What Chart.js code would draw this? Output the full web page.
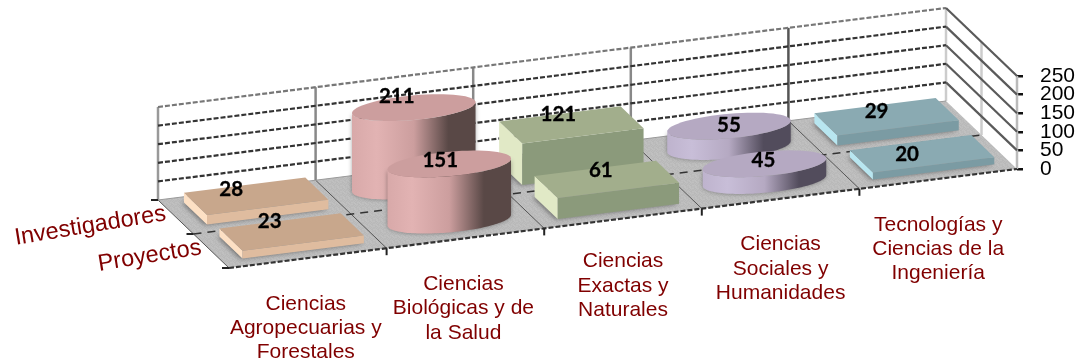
<!DOCTYPE html>
<html>
<head>
<meta charset="utf-8">
<style>
  html, body { margin: 0; padding: 0; background: #fff; }
  #wrap { width: 1080px; height: 364px; }
</style>
<script src="https://cdn.jsdelivr.net/npm/chart.js@4/dist/chart.umd.min.js"></script>
</head>
<body>
<div id="wrap"><canvas id="chart3d"></canvas></div>
<script>
const categories = [
  ['Ciencias', 'Agropecuarias y', 'Forestales'],
  ['Ciencias', 'Biológicas y de', 'la Salud'],
  ['Ciencias', 'Exactas y', 'Naturales'],
  ['Ciencias', 'Sociales y', 'Humanidades'],
  ['Tecnologías y', 'Ciencias de la', 'Ingeniería']
];
const proyectos = [23, 151, 61, 45, 20];
const investigadores = [28, 211, 121, 55, 29];
const seriesNames = ['Proyectos', 'Investigadores'];
const yTicks = [0, 50, 100, 150, 200, 250];
const shapes = ['box', 'cylinder', 'box', 'cylinder', 'box'];

const palette = [
  { top: '#c8a78c', front: '#dfbc9f', side: '#fde0c4', dark: '#8a7060' },
  { top: '#cc9e9e', front: '#e2b3b3', side: '#d8a9a9', dark: '#594846' },
  { top: '#a2ae8c', front: '#8b9a7b', side: '#e1e9c6', dark: '#6f7a60' },
  { top: '#b5a9c2', front: '#c8bed8', side: '#beb3cd', dark: '#524c5c' },
  { top: '#8aaab2', front: '#7b9ba3', side: '#b8e6f0', dark: '#5f7a80' }
];
const wallLineColors = ['#999', '#888', '#888', '#888', '#555', '#ccc'];

// small shifts of the value labels, per series then per category
const labelNudge = [
  [[-22, -11], [-9, -4], [-6, -9], [-1, -3], [-15, 1]],
  [[-25, -7], [-17, -11], [-13, -10], [0, -1], [-10, -5]]
];
// small shifts of the category labels
const categoryNudge = [[-2, 0], [-2, 0], [0, -3], [0, 0], [0, 0]];

// oblique view: depth runs from front edge (0) to back wall (1)
const depthDx = -71;
const depthDy = -68;
const frontRise = 99 / 788;
const boxHeightScale = 0.92;
const cylinderHeightScale = 1;
const boxNear = 0.2;
const boxFar = 0.85;
const barShift = 2.5;
const redText = '#800000';

function project(area, px, depth, py) {
  return {
    x: px + depth * depthDx,
    y: py + (area.right - px) * frontRise + depth * depthDy
  };
}

function poly(ctx, pts, fill) {
  ctx.beginPath();
  pts.forEach((p, i) => i ? ctx.lineTo(p.x, p.y) : ctx.moveTo(p.x, p.y));
  ctx.closePath();
  ctx.fillStyle = fill;
  ctx.fill();
}

function line(ctx, a, b, color, width, dash) {
  ctx.beginPath();
  ctx.moveTo(a.x, a.y);
  ctx.lineTo(b.x, b.y);
  ctx.strokeStyle = color;
  ctx.lineWidth = width;
  ctx.setLineDash(dash || []);
  ctx.stroke();
  ctx.setLineDash([]);
}

// grainy grey of the floor, a fixed tile
function floorPattern(ctx) {
  const tile = document.createElement('canvas');
  tile.width = 11;
  tile.height = 11;
  const t = tile.getContext('2d');
  const greys = ['#bcbcbc', '#b8b8b8', '#c0c0c0', '#bababa', '#bebebe'];
  for (let a = 0; a < 11; a++) {
    for (let b = 0; b < 11; b++) {
      t.fillStyle = greys[(a * a * 3 + b * b * 7 + a * b) % 5];
      t.fillRect(a, b, 1, 1);
    }
  }
  return ctx.createPattern(tile, 'repeat');
}

function drawRoom(chart) {
  const { ctx, chartArea: area } = chart;
  const y = chart.scales.y;
  const base = y.getPixelForValue(0);
  const n = categories.length;
  const step = (area.right - area.left) / n;

  // floor
  poly(ctx, [
    project(area, area.left, 0, base), project(area, area.right, 0, base),
    project(area, area.right, 1, base), project(area, area.left, 1, base)
  ], floorPattern(ctx));

  for (let i = 0; i <= n; i++) {
    const px = area.left + i * step;
    line(ctx, project(area, px, 1, base), project(area, px, 1, area.top), wallLineColors[i], 2.5);
  }
  line(ctx, project(area, area.right, 0.5, base), project(area, area.right, 0.5, area.top), '#ccc', 2.5);
  line(ctx, project(area, area.right, 0, base), project(area, area.right, 0, area.top), '#bbb', 2.5);

  // grid lines on back and right walls
  yTicks.forEach((t, i) => {
    const py = y.getPixelForValue(t);
    const color = i === yTicks.length - 1 ? '#777' : '#333';
    if (i > 0) {
      line(ctx, project(area, area.left, 1, py), project(area, area.right, 1, py), color, 2.2, [5, 2]);
      line(ctx, project(area, area.right, 1, py), project(area, area.right, 0, py), '#5a5a5a', 2.2);
    }
  });

  // floor lines
  for (let i = 1; i < n; i++) {
    const px = area.left + i * step;
    line(ctx, project(area, px, 0, base), project(area, px, 1, base), '#555', 1);
  }
  line(ctx, project(area, area.left, 0, base), project(area, area.left, 1, base), '#555', 1);
  line(ctx, project(area, area.left, 0.5, base), project(area, area.right, 0.5, base), '#333', 1.5, [8, 6]);
  line(ctx, project(area, area.left, 0, base), project(area, area.right, 0, base), '#333', 2.2, [5, 2]);
  line(ctx, project(area, area.left, 1, base), project(area, area.right, 1, base), '#999', 1);

  // ticks along the floor edges
  for (let i = 1; i < n; i++) {
    const p = project(area, area.left + i * step, 0, base);
    line(ctx, p, { x: p.x, y: p.y + 7 }, '#222', 2);
  }
  [0, 0.5, 1].forEach(d => {
    const p = project(area, area.left, d, base);
    line(ctx, p, { x: p.x - 7, y: p.y }, '#222', 2);
  });
}

function drawBox(ctx, area, el, s, top, base, col) {
  const half = el.width / 2;
  const dNear = (s + boxNear) / 2;
  const dFar = (s + boxFar) / 2;
  const l = el.x + barShift - half;
  const r = el.x + barShift + half;
  const corner = (px, d, py) => project(area, px, d, py);

  // soft shadow on the floor
  ctx.save();
  ctx.shadowColor = 'rgba(0,0,0,0.45)';
  ctx.shadowBlur = 5;
  ctx.shadowOffsetX = -2;
  poly(ctx, [corner(l, dNear, base), corner(r, dNear, base), corner(r, dFar, base), corner(l, dFar, base)], '#999');
  ctx.restore();

  poly(ctx, [corner(l, dNear, top), corner(l, dFar, top), corner(l, dFar, base), corner(l, dNear, base)], col.side);
  poly(ctx, [corner(l, dNear, top), corner(r, dNear, top), corner(r, dNear, base), corner(l, dNear, base)], col.front);
  poly(ctx, [corner(l, dNear, top), corner(r, dNear, top), corner(r, dFar, top), corner(l, dFar, top)], col.top);
}

function drawCylinder(ctx, area, el, s, top, base, col) {
  const half = el.width / 2;
  const cx = el.x + barShift;
  const dMid = (s + (boxNear + boxFar) / 2) / 2;
  const dHalf = (boxFar - boxNear) / 4;
  const rimPoint = (t, py) => project(area, cx + Math.cos(t) * half, dMid + Math.sin(t) * dHalf, py);
  // the silhouette turns where the rim is furthest left or right
  const turn = Math.atan2(dHalf * depthDx, half);
  const lower = [];
  const upper = [];
  const steps = 64;
  for (let i = 0; i <= steps; i++) {
    lower.push(rimPoint(turn - (i / steps) * Math.PI, base));
  }
  for (let i = 0; i <= steps; i++) {
    upper.push(rimPoint(turn - Math.PI + (i / steps) * Math.PI, top));
  }

  const xs = lower.map(p => p.x);
  const x0 = Math.min(...xs);
  const x1 = Math.max(...xs);
  const grad = ctx.createLinearGradient(x0, 0, x1, 0);
  grad.addColorStop(0, col.side);
  grad.addColorStop(0.2, col.front);
  grad.addColorStop(0.5, col.top);
  grad.addColorStop(0.78, col.dark);
  grad.addColorStop(1, col.dark);

  ctx.save();
  ctx.shadowColor = 'rgba(0,0,0,0.35)';
  ctx.shadowBlur = 4;
  poly(ctx, lower.concat(upper), grad);
  ctx.restore();

  const rim = [];
  for (let i = 0; i < steps; i++) rim.push(rimPoint((i / steps) * Math.PI * 2, top));
  poly(ctx, rim, col.top);
}

function barTop(el, i) {
  const k = shapes[i] === 'cylinder' ? cylinderHeightScale : boxHeightScale;
  return el.base - (el.base - el.y) * k;
}

const room3d = {
  id: 'room3d',
  afterDatasetsDraw(chart) {
    const { ctx, chartArea: area } = chart;
    const y = chart.scales.y;
    const base = y.getPixelForValue(0);
    ctx.save();
    drawRoom(chart);

    // back series first so the front one covers it
    [1, 0].forEach(s => {
      chart.getDatasetMeta(s).data.forEach((el, i) => {
        const draw = shapes[i] === 'cylinder' ? drawCylinder : drawBox;
        draw(ctx, area, el, s, barTop(el, i), base, palette[i]);
      });
    });

    // value labels
    ctx.fillStyle = '#000';
    ctx.strokeStyle = '#000';
    ctx.lineWidth = 0.3;
    ctx.font = 'bold 20.5px Lato';
    ctx.textAlign = 'center';
    ctx.textBaseline = 'middle';
    [1, 0].forEach(s => {
      chart.getDatasetMeta(s).data.forEach((el, i) => {
        const p = project(area, el.x + barShift, (s + (boxNear + boxFar) / 2) / 2, barTop(el, i));
        const value = chart.data.datasets[s].data[i];
        ctx.fillText(value, p.x + labelNudge[s][i][0], p.y + labelNudge[s][i][1]);
        ctx.strokeText(value, p.x + labelNudge[s][i][0], p.y + labelNudge[s][i][1]);
      });
    });

    // category labels under the front edge
    ctx.fillStyle = redText;
    ctx.font = '21px "Liberation Sans"';
    chart.scales.x.ticks.forEach((tick, i) => {
      const p = project(area, chart.scales.x.getPixelForTick(i), 0, base);
      categories[i].forEach((text, k) => {
        ctx.fillText(text, p.x + categoryNudge[i][0], p.y + 46 + categoryNudge[i][1] + k * 24.3);
      });
    });

    // series names follow the left floor edge
    ctx.font = '23.5px "Liberation Sans"';
    ctx.textAlign = 'right';
    ctx.textBaseline = 'alphabetic';
    seriesNames.forEach((name, s) => {
      const p = project(area, area.left, (s + 0.5) / 2, base);
      ctx.save();
      ctx.translate(p.x - 9, p.y + 3);
      ctx.rotate(-9.3 * Math.PI / 180);
      ctx.fillText(name, 0, 0);
      ctx.restore();
    });
    ctx.restore();
  }
};

const hiddenFill = 'rgba(0,0,0,0)';

new Chart(document.getElementById('chart3d'), {
  type: 'bar',
  data: {
    labels: categories,
    datasets: [
      { label: seriesNames[0], data: proyectos, backgroundColor: hiddenFill },
      { label: seriesNames[1], data: investigadores, backgroundColor: hiddenFill }
    ]
  },
  options: {
    responsive: true,
    maintainAspectRatio: false,
    animation: false,
    layout: { padding: { left: 229, top: 76, bottom: 195, right: 0 } },
    grouped: false,
    datasets: { bar: { barPercentage: 0.77, categoryPercentage: 1 } },
    plugins: { legend: { display: false }, tooltip: { enabled: false } },
    scales: {
      x: { display: false },
      y: {
        position: 'right',
        min: 0,
        max: 250,
        afterFit(scale) { scale.width = 63; },
        afterBuildTicks(scale) { scale.ticks = yTicks.map(value => ({ value })); },
        border: { display: false },
        grid: { drawOnChartArea: false, drawTicks: true, tickLength: 6, color: '#111', lineWidth: 2.5 },
        ticks: {
          autoSkip: false,
          padding: 17,
          color: '#000',
          font: { family: '"Liberation Sans"', size: 21 }
        }
      }
    }
  },
  plugins: [room3d]
});
</script>
</body>
</html>
